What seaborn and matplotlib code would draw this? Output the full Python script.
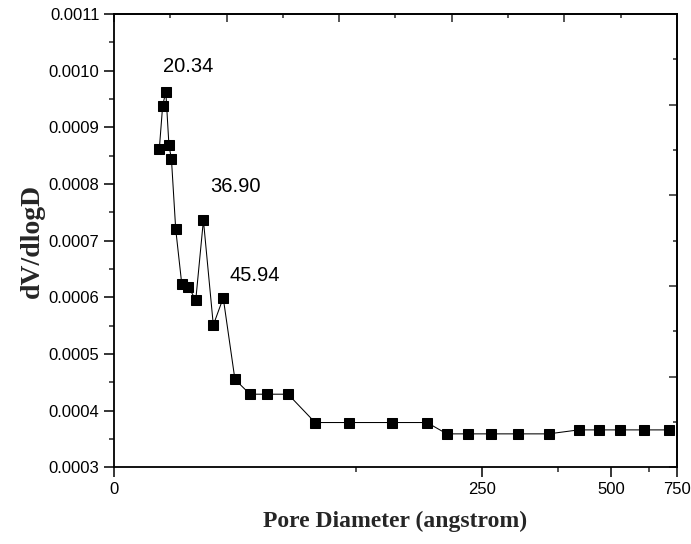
import numpy as np
import pandas as pd
import seaborn as sns
import matplotlib.pyplot as plt
from matplotlib.ticker import MultipleLocator, FixedLocator, FormatStrFormatter

# Pore size distribution (BJH)
pore_diameter = [20.1, 21.6, 23.0, 24.4, 25.5, 27.4, 30.1, 33.0, 36.3, 39.7,
                 44.1, 48.5, 53.7, 60.4, 68.0, 77.3, 89.3, 104.4, 123.3, 139.0,
                 147.8, 157.4, 167.4, 179.6, 193.0, 206.3, 215.4, 224.5, 235.2, 246.3]
dv_dlogd = [0.000861, 0.000938, 0.000963, 0.000868, 0.000844, 0.000720, 0.000623,
            0.000619, 0.000595, 0.000736, 0.000551, 0.000599, 0.000455, 0.000429,
            0.000429, 0.000429, 0.000379, 0.000379, 0.000379, 0.000379, 0.000359,
            0.000359, 0.000359, 0.000359, 0.000359, 0.000366, 0.000366, 0.000366,
            0.000366, 0.000366]

peak_labels = ["20.34", "36.90", "45.94"]
peak_label_xy = [(21.6, 0.001007), (42.9, 0.000796), (51.2, 0.000639)]

bottom_tick_labels = ["0", "250", "500", "750"]
bottom_tick_pos = [0, 163.3, 220.7, 250]
bottom_minor_pos = [107.3, 197.3, 237.4]

df = pd.DataFrame({"d": pore_diameter, "v": dv_dlogd})

sns.set_style("ticks")
plt.rcParams["font.family"] = ["Liberation Sans", "DejaVu Sans"]

fig = plt.figure(figsize=(6.91, 5.44), dpi=100)
ax = fig.add_axes([0.165, 0.141, 0.9797 - 0.165, 0.9743 - 0.141])

sns.lineplot(
    data=df, x="d", y="v", ax=ax,
    color="black", linewidth=0.75,
    marker="s", markersize=6.5,
    markerfacecolor="black", markeredgecolor="black",
    sort=False, estimator=None,
)

ax.set_xlim(0, 250)
ax.set_ylim(0.0003, 0.0011)

# Left axis
ax.yaxis.set_major_locator(MultipleLocator(0.0001))
ax.yaxis.set_minor_locator(MultipleLocator(0.00005))
ax.yaxis.set_major_formatter(FormatStrFormatter("%.4f"))

# Bottom axis (labels as printed on the original)
ax.xaxis.set_major_locator(FixedLocator(bottom_tick_pos))
ax.set_xticklabels(bottom_tick_labels)
ax.xaxis.set_minor_locator(FixedLocator(bottom_minor_pos))

ax.tick_params(axis="both", which="major", direction="out", length=7.5,
               width=1.1, labelsize=12, pad=3, colors="black")
ax.tick_params(axis="both", which="minor", direction="out", length=3.5,
               width=1.1)
ax.tick_params(top=False, right=False)

for side in ["left", "right", "top", "bottom"]:
    ax.spines[side].set_visible(True)
    ax.spines[side].set_linewidth(1.3)
    ax.spines[side].set_color("black")

# Top axis: ticks only
top = ax.secondary_xaxis("top")
top.xaxis.set_major_locator(MultipleLocator(50))
top.xaxis.set_minor_locator(MultipleLocator(25))
top.tick_params(which="major", direction="in", length=6, width=1.1, labeltop=False)
top.tick_params(which="minor", direction="in", length=3, width=1.1)
top.spines["top"].set_linewidth(1.3)

# Right axis: ticks only
right = ax.secondary_yaxis(
    "right",
    functions=(lambda y: (y - 0.0003) / 0.0008 * 10, lambda t: t / 10 * 0.0008 + 0.0003),
)
right.yaxis.set_major_locator(MultipleLocator(2))
right.yaxis.set_minor_locator(MultipleLocator(1))
right.tick_params(which="major", direction="in", length=6, width=1.1, labelright=False)
right.tick_params(which="minor", direction="in", length=3, width=1.1)
right.spines["right"].set_linewidth(1.3)

for label, (x, y) in zip(peak_labels, peak_label_xy):
    ax.text(x, y, label, fontsize=14.5, ha="left", va="center", color="black")

ax.set_xlabel("Pore Diameter (angstrom)", fontsize=17, fontweight="bold",
              family=["Liberation Serif", "DejaVu Serif"], labelpad=10)
ax.set_ylabel("dV/dlogD", fontsize=20, fontweight="bold",
              family=["Liberation Serif", "DejaVu Serif"], labelpad=3)

fig.savefig("out.png", dpi=100)
